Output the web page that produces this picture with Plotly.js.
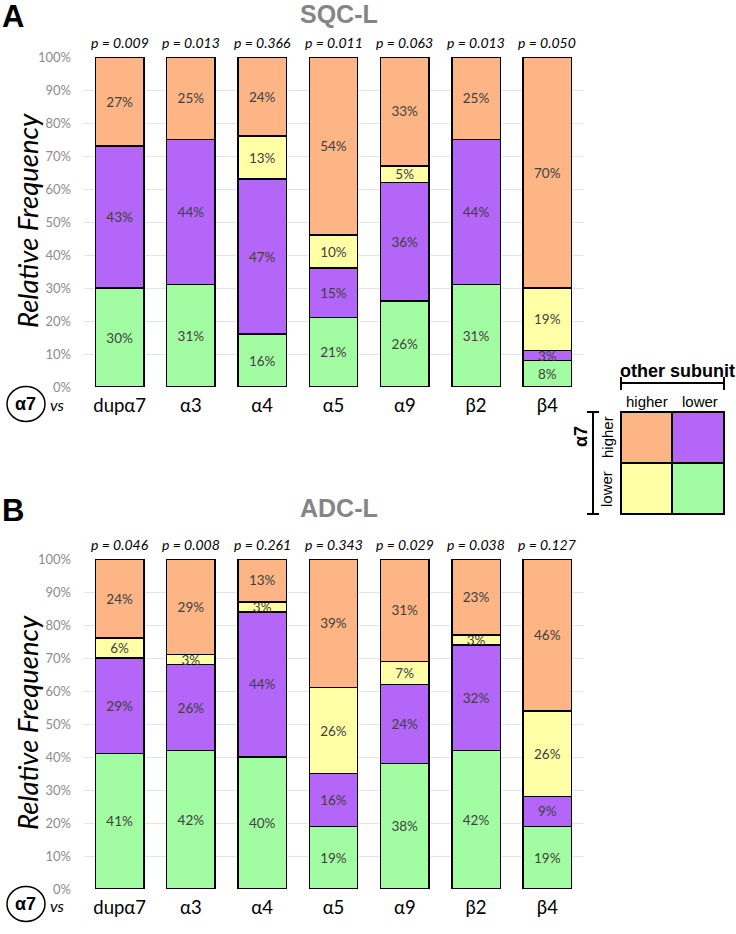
<!DOCTYPE html>
<html><head><meta charset="utf-8">
<script src="https://cdn.plot.ly/plotly-3.0.1.min.js"></script>
<style>body{margin:0;background:#fff}#chart{width:736px;height:934px}</style>
</head><body><div id="chart"></div><script>
const categories = ['dupα7','α3','α4','α5','α9','β2','β4'];
const sqcGreen  = [30,31,16,21,26,31,8];
const sqcPurple = [43,44,47,15,36,44,3];
const sqcYellow = [0,0,13,10,5,0,19];
const sqcOrange = [27,25,24,54,33,25,70];
const sqcP = ['0.009','0.013','0.366','0.011','0.063','0.013','0.050'];
const adcGreen  = [41,42,40,19,38,42,19];
const adcPurple = [29,26,44,16,24,32,9];
const adcYellow = [6,3,3,26,7,3,26];
const adcOrange = [24,29,13,39,31,23,46];
const adcP = ['0.046','0.008','0.261','0.343','0.029','0.038','0.127'];

const W = 736, H = 934;
const px = x => x / W, py = y => 1 - y / H;
const COL = {green:'#A2FDA2', purple:'#B366F7', yellow:'#FFFFA6', orange:'#FDB585'};
const bodyFont = 'Lato, "Open Sans", sans-serif';
const headFont = '"Liberation Sans", Arial, sans-serif';

function seg(vals, color, xa, ya){
  return {type:'bar', x:categories, y:vals, xaxis:xa, yaxis:ya,
    marker:{color:color, line:{color:'#000', width:1.5}},
    text: vals.map(v => v ? v + '%' : ''), textposition:'inside', insidetextanchor:'middle',
    constraintext:'none', textangle:0,
    textfont:{family:bodyFont, size:13.5, color:'#404040'}, hoverinfo:'skip', showlegend:false};
}
const data = [
  seg(sqcGreen, COL.green, 'x','y'), seg(sqcPurple, COL.purple, 'x','y'),
  seg(sqcYellow, COL.yellow, 'x','y'), seg(sqcOrange, COL.orange, 'x','y'),
  seg(adcGreen, COL.green, 'x2','y2'), seg(adcPurple, COL.purple, 'x2','y2'),
  seg(adcYellow, COL.yellow, 'x2','y2'), seg(adcOrange, COL.orange, 'x2','y2')
];

const xdom = [px(84), px(583)];
function yax(top, bot){
  return {domain:[py(bot), py(top)], range:[0,100], dtick:10, ticksuffix:'%',
    showgrid:true, gridcolor:'#e3e3ee', gridwidth:1, zeroline:false, showline:false,
    ticks:'', ticklabelstandoff:12, tickfont:{family:bodyFont, size:13, color:'#8c8c8c'}, fixedrange:true};
}
function xax(anchor){
  return {domain:xdom, anchor:anchor, showline:false, ticks:'', showgrid:false, zeroline:false,
    ticklabelstandoff:5, tickfont:{family:bodyFont, size:18.5, color:'#000'}, fixedrange:true};
}

const annotations = [];
const shapes = [];
function txt(x, y, text, font, extra){
  annotations.push(Object.assign({xref:'paper', yref:'paper', x:px(x), y:py(y), text:text,
    showarrow:false, xanchor:'center', yanchor:'middle', font:font}, extra||{}));
}
function line(x0,y0,x1,y1,w){
  shapes.push({type:'line', xref:'paper', yref:'paper', x0:px(x0), y0:py(y0), x1:px(x1), y1:py(y1),
    line:{color:'#000', width:w||2}});
}

function panel(letter, title, yTitle, pvals, xa, ya, top, bot, labY){
  txt(13, yTitle+2, '<b>'+letter+'</b>', {family:headFont, size:31, color:'#000'});
  txt(339, yTitle, '<b>'+title+'</b>', {family:headFont, size:25, color:'#858585'});
  pvals.forEach((p,i) => annotations.push({xref:xa, yref:ya, x:categories[i], y:100, yanchor:'bottom', yshift:4,
    text:'<i>p = '+p+'</i>', showarrow:false, font:{family:bodyFont, size:14, color:'#000'}}));
  txt(27, (top+bot)/2 - 1, '<i>Relative Frequency</i>', {family:bodyFont, size:27.5, color:'#000'}, {textangle:-90});
  shapes.push({type:'circle', xref:'paper', yref:'paper', x0:px(7), x1:px(45), y0:py(labY+17.5), y1:py(labY-17.5),
    line:{color:'#000', width:1.5}});
  txt(26, labY, '<b>α7</b>', {family:headFont, size:18, color:'#000'});
  txt(57, labY+1, '<i>vs</i>', {family:bodyFont, size:16, color:'#000'});
}
panel('A','SQC-L', 14, sqcP, 'x','y', 57, 387, 404);
panel('B','ADC-L', 508, adcP, 'x2','y2', 559, 889, 904);

// legend key
txt(677, 371, '<b>other subunit</b>', {family:headFont, size:18, color:'#000'});
line(621,383,724,383,2); line(621,377,621,390,2); line(724,377,724,390,2);
txt(647, 401, 'higher', {family:headFont, size:15, color:'#000'});
txt(700, 401, 'lower', {family:headFont, size:15, color:'#000'});
const gx = [621,672,724], gy = [412,463,514];
[[0,0,COL.orange],[1,0,COL.purple],[0,1,COL.yellow],[1,1,COL.green]].forEach(([c,r,col]) =>
  shapes.push({type:'rect', xref:'paper', yref:'paper', x0:px(gx[c]), x1:px(gx[c+1]), y0:py(gy[r+1]), y1:py(gy[r]),
    fillcolor:col, line:{color:'#000', width:2}}));
line(593,412,593,514,2); line(587,412,599,412,2); line(587,514,599,514,2);
txt(581, 437, '<b>α7</b>', {family:headFont, size:18, color:'#000'}, {textangle:-90});
txt(607, 437, 'higher', {family:headFont, size:15, color:'#000'}, {textangle:-90});
txt(607, 489, 'lower', {family:headFont, size:15, color:'#000'}, {textangle:-90});

const layout = {
  width:W, height:H, margin:{l:0,r:0,t:0,b:0}, paper_bgcolor:'#fff', plot_bgcolor:'rgba(0,0,0,0)',
  barmode:'stack', bargap:0.32, showlegend:false,
  xaxis: xax('y'), yaxis: yax(57,387),
  xaxis2: xax('y2'), yaxis2: yax(559,889),
  annotations: annotations, shapes: shapes
};
Plotly.newPlot('chart', data, layout, {displayModeBar:false, staticPlot:true});
</script></body></html>
